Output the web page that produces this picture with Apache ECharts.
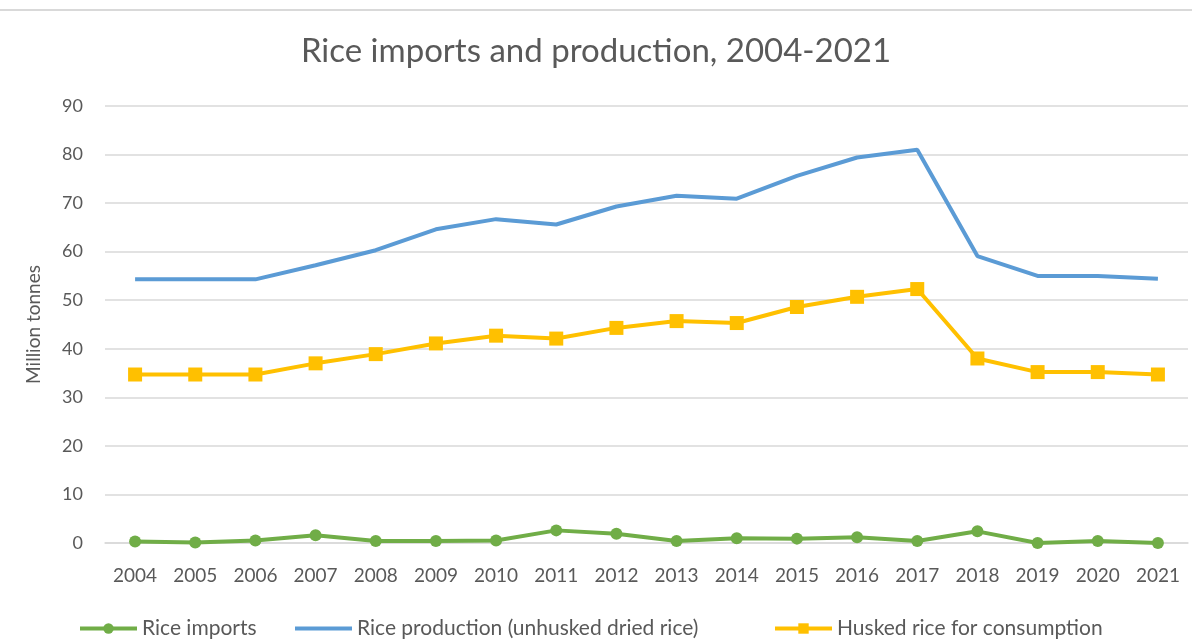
<!DOCTYPE html>
<html><head><meta charset="utf-8">
<script src="https://cdn.jsdelivr.net/npm/echarts@6/dist/echarts.min.js"></script>
<style>html,body{margin:0;padding:0;background:#fff}#c{width:1192px;height:641px}</style>
</head><body><div id="c"></div>
<script>
const years = ['2004','2005','2006','2007','2008','2009','2010','2011','2012','2013','2014','2015','2016','2017','2018','2019','2020','2021'];
const riceImports = [0.3,0.1,0.5,1.6,0.4,0.4,0.5,2.6,1.9,0.4,1.0,0.9,1.2,0.4,2.4,0.0,0.4,0.0];
const riceProduction = [54.3,54.3,54.3,57.2,60.3,64.6,66.7,65.6,69.3,71.5,70.9,75.6,79.4,81.0,59.1,55.0,55.0,54.4];
const huskedRice = [34.7,34.7,34.7,37.0,38.9,41.1,42.7,42.1,44.3,45.7,45.3,48.6,50.7,52.3,38.0,35.2,35.2,34.7];
const yTicks = [0,10,20,30,40,50,60,70,80,90];
const seriesNames = ['Rice imports','Rice production (unhusked dried rice)','Husked rice for consumption'];
const txt = '#595959';
const font = 'Lato';
const legendLefts = [78, 293, 773];
const legendFont = {fontFamily:font,fontSize:21,color:txt};
const chart = echarts.init(document.getElementById('c'));
chart.setOption({
  animation:false,
  backgroundColor:'#fff',
  title:{text:'Rice imports and production, 2004-2021',left:'center',top:30,
    textStyle:{fontFamily:font,fontSize:33,fontWeight:'normal',color:txt}},
  graphic:[{type:'line',shape:{x1:0,y1:10,x2:1192,y2:10},style:{stroke:'#d9d9d9',lineWidth:2}}],
  grid:{left:105,right:4,top:106,bottom:98,containLabel:false},
  legend:seriesNames.map((n,i)=>({
    data:[i===1?{name:n,itemStyle:{color:'rgba(0,0,0,0)',borderWidth:0}}:n],
    top:618,left:legendLefts[i],padding:0,itemWidth:57,itemHeight:13,
    lineStyle:{width:4},textStyle:legendFont})),
  xAxis:{type:'category',data:years,boundaryGap:true,
    axisLine:{lineStyle:{color:'#d9d9d9',width:1.5}},axisTick:{show:false},
    axisLabel:{fontFamily:font,fontSize:19,color:txt,margin:23,interval:0}},
  yAxis:{type:'value',min:0,max:90,interval:10,
    name:'Million tonnes',nameLocation:'middle',nameGap:62,nameRotate:90,
    nameTextStyle:{fontFamily:font,fontSize:19,color:txt},
    axisLine:{show:false},axisTick:{show:false},
    axisLabel:{fontFamily:font,fontSize:18,color:txt,margin:22,
      formatter:v=>yTicks.includes(v)?String(v):''},
    splitLine:{lineStyle:{color:'#d9d9d9',width:1.5}}},
  series:[
    {name:seriesNames[0],type:'line',data:riceImports,symbol:'circle',symbolSize:12,
     itemStyle:{color:'#70AD47'},lineStyle:{color:'#70AD47',width:4},z:3},
    {name:seriesNames[1],type:'line',data:riceProduction,symbol:'none',
     itemStyle:{color:'#5B9BD5'},lineStyle:{color:'#5B9BD5',width:4},z:2},
    {name:seriesNames[2],type:'line',data:huskedRice,symbol:'rect',symbolSize:14,
     itemStyle:{color:'#FFC000'},lineStyle:{color:'#FFC000',width:4},z:2}
  ]
});
</script></body></html>
